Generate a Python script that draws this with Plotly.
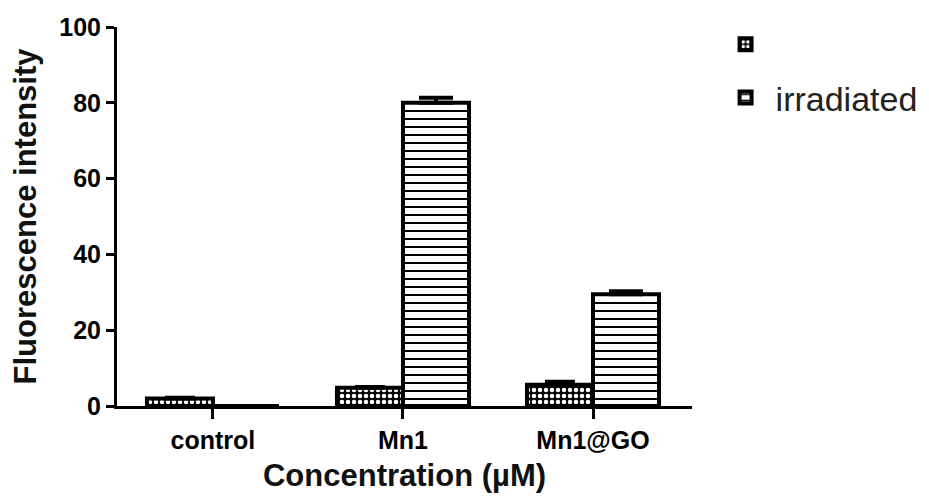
import plotly.graph_objects as go

# Fluorescence intensity per sample, dark vs. irradiated
categories = ["control", "Mn1", "Mn1@GO"]
dark_values = [2.0, 4.8, 5.6]
dark_errors = [0.2, 0.2, 0.8]
irradiated_values = [0.0, 80.0, 29.5]
irradiated_errors = [0.0, 1.3, 0.8]
y_ticks = [0, 20, 40, 60, 80, 100]

FONT = "Liberation Sans, Arial, sans-serif"
INK = "black"

fig = go.Figure()

fig.add_trace(go.Bar(
    x=categories, y=dark_values, name=" ", legendgroup="dark",
    marker=dict(
        color="black",
        line=dict(color=INK, width=4),
        pattern=dict(shape=".", size=6, solidity=0.45, fgcolor="white",
                     bgcolor="black", fillmode="replace"),
    ),
    error_y=dict(type="data", array=dark_errors, arrayminus=[0, 0, 0],
                 symmetric=False, color=INK, thickness=4, width=15),
))

fig.add_trace(go.Bar(
    x=categories, y=irradiated_values, name="irradiated", legendgroup="irr",
    marker=dict(
        color="white",
        line=dict(color=INK, width=4),
        pattern=dict(shape="-", size=8, solidity=0.25, fgcolor=INK,
                     bgcolor="white", fillmode="replace"),
    ),
    error_y=dict(type="data", array=irradiated_errors, arrayminus=[0, 0, 0],
                 symmetric=False, color=INK, thickness=4, width=17),
))

fig.update_layout(
    width=929, height=501,
    margin=dict(l=117, r=237, t=27, b=95, autoexpand=False),
    paper_bgcolor="white", plot_bgcolor="white",
    barmode="group", bargap=0.305, bargroupgap=0,
    font=dict(family=FONT, color=INK),
    showlegend=True,
    legend=dict(
        x=1.041, y=1.03, xanchor="left", yanchor="top",
        font=dict(family=FONT, size=34, color="#222222"),
        bgcolor="rgba(0,0,0,0)", itemwidth=50, tracegroupgap=6,
    ),
)

fig.update_xaxes(
    range=[-0.505, 2.521],
    showline=True, linecolor=INK, linewidth=3,
    ticks="outside", ticklen=10, tickwidth=3, tickcolor=INK,
    tickfont=dict(family=FONT, size=25, color=INK, weight="bold"),
    title=dict(text="Concentration (µM)", standoff=12,
               font=dict(family=FONT, size=31, color="#111111", weight="bold")),
    showgrid=False, zeroline=False,
)

fig.update_yaxes(
    range=[0, 100], tickvals=y_ticks,
    showline=True, linecolor=INK, linewidth=3,
    ticks="outside", ticklen=8, tickwidth=3, tickcolor=INK,
    tickfont=dict(family=FONT, size=25, color=INK, weight="bold"),
    title=dict(text="Fluorescence intensity", standoff=14,
               font=dict(family=FONT, size=31, color="#111111", weight="bold")),
    showgrid=False, zeroline=False,
)

fig.write_html("out.html")
